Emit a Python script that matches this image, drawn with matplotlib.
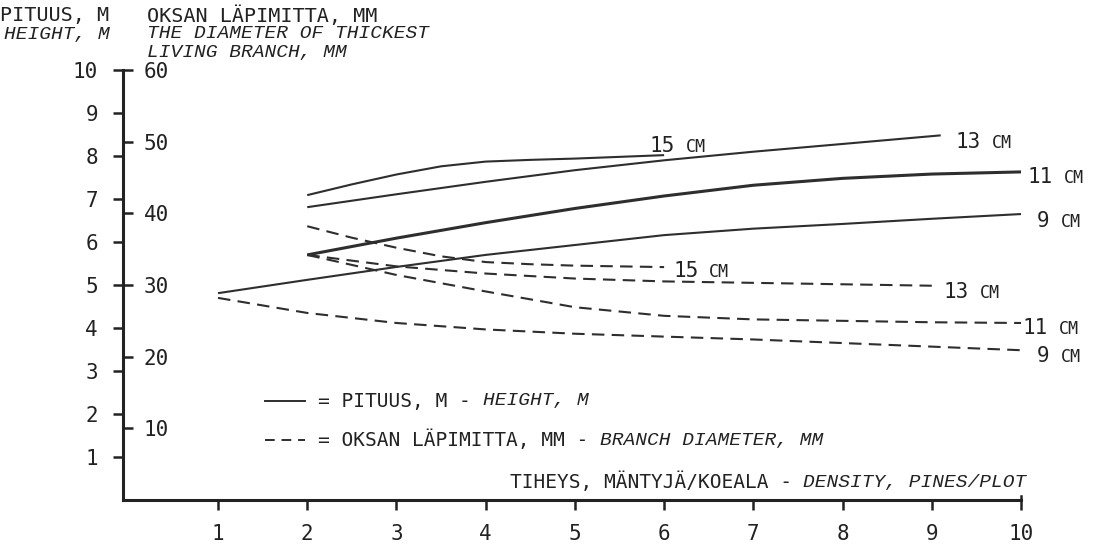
import numpy as np
import matplotlib
matplotlib.use("Agg")
from matplotlib import pyplot as plt

# tiheys (mäntyjä / koeala) ja pituudet (m) eri rinnankorkeusläpimitoille
x_15 = [2, 2.5, 3, 3.5, 4, 4.5, 5, 5.5, 6]
h_15 = [7.09, 7.34, 7.57, 7.76, 7.87, 7.91, 7.94, 7.98, 8.02]
x_13 = [2, 3, 4, 5, 6, 7, 8, 9.1]
h_13 = [6.81, 7.11, 7.40, 7.67, 7.90, 8.10, 8.28, 8.48]
x_11 = [2, 3, 4, 5, 6, 7, 8, 9, 10]
h_11 = [5.70, 6.09, 6.45, 6.78, 7.07, 7.32, 7.48, 7.58, 7.63]
x_9 = [1, 2, 3, 4, 5, 6, 7, 8, 9, 10]
h_9 = [4.81, 5.12, 5.42, 5.70, 5.93, 6.16, 6.31, 6.42, 6.54, 6.65]

# paksuimman elävän oksan läpimitta (mm)
dx_15 = [2, 2.5, 3, 3.5, 4, 4.5, 5, 5.5, 6]
d_15 = [38.2, 36.6, 35.2, 34.0, 33.2, 32.9, 32.7, 32.6, 32.5]
dx_13 = [2, 3, 4, 5, 6, 7, 8, 9]
d_13 = [34.2, 32.6, 31.6, 30.9, 30.5, 30.3, 30.1, 29.9]
dx_11 = [2, 3, 4, 5, 6, 7, 8, 9, 10]
d_11 = [34.2, 31.4, 29.1, 26.9, 25.7, 25.2, 25.0, 24.8, 24.7]
dx_9 = [1, 2, 3, 4, 5, 6, 7, 8, 9, 10]
d_9 = [28.2, 26.1, 24.7, 23.8, 23.2, 22.8, 22.4, 21.9, 21.4, 20.9]

sizes = ["15", "13", "11", "9"]
x_ticks = list(range(1, 11))
h_ticks = list(range(1, 11))
d_ticks = [10, 20, 30, 40, 50, 60]

INK = "#222222"
LINE = "#2e2e2e"
UP = "DejaVu Sans Mono"
IT = "Liberation Mono"

W, H = 1095, 548
fig = plt.figure(figsize=(W / 100, H / 100), dpi=100)
fig.patch.set_facecolor("white")

ax = fig.add_axes([123 / W, 1 - 500 / H, 898 / W, 430 / H])
ax.set_xlim(-0.065, 10)
ax.set_ylim(0, 10)
ax.patch.set_alpha(0)

ax2 = ax.twinx()
ax2.set_ylim(0, 60)
ax2.patch.set_alpha(0)

for s in ["top", "right"]:
    ax.spines[s].set_visible(False)
ax2.spines["top"].set_visible(False)
ax2.spines["left"].set_visible(False)
ax2.spines["bottom"].set_visible(False)
ax2.spines["right"].set_position(("axes", 0))
ax2.spines["right"].set_visible(False)
for s in ["left", "bottom"]:
    ax.spines[s].set_linewidth(2.2)
    ax.spines[s].set_color(INK)

ax.set_xticks(x_ticks)
ax.set_yticks(h_ticks)
ax2.set_yticks(d_ticks)
ax.tick_params(axis="both", direction="out", length=7, width=1.8, color=INK,
               labelsize=15, labelcolor=INK)
ax.tick_params(axis="x", pad=10)
ax.tick_params(axis="y", pad=11)
ax2.tick_params(axis="y", direction="out", length=7, width=1.8, color=INK,
                labelsize=15, labelcolor=INK, pad=8)
for lab in ax.get_xticklabels() + ax.get_yticklabels() + ax2.get_yticklabels():
    lab.set_family(UP)

# pieni nousu x-akselin päässä
ax.plot([10, 10], [0, 0.09], color=INK, lw=1.8, clip_on=False)

# pituus, yhtenäiset viivat
ax.plot(x_15, h_15, color=LINE, lw=1.5, solid_capstyle="butt")
ax.plot(x_13, h_13, color=LINE, lw=1.5, solid_capstyle="butt")
ax.plot(x_11, h_11, color=LINE, lw=2.2, solid_capstyle="butt")
ax.plot(x_9, h_9, color=LINE, lw=1.5, solid_capstyle="butt")

# oksan läpimitta, katkoviivat
for xs, ds in [(dx_15, d_15), (dx_13, d_13), (dx_11, d_11), (dx_9, d_9)]:
    ax2.plot(xs, ds, color=LINE, lw=1.5, dashes=(6, 3.5))


def curve_label(a, x, y, num):
    # numero isolla, "CM" pienemmällä perässä
    a.annotate(num, (x, y), xytext=(0, -5), textcoords="offset points",
               family=UP, fontsize=15, color=INK, ha="left", va="baseline",
               annotation_clip=False)
    a.annotate("CM", (x, y), xytext=(len(num) * 0.602 * 15 + 8, -5),
               textcoords="offset points", family=UP, fontsize=12,
               color=INK, ha="left", va="baseline", annotation_clip=False)


solid_pos = [(5.84, 8.26), (9.27, 8.35), (10.07, 7.53), (10.18, 6.51)]
dash_pos = [(6.10, 32.1), (9.13, 29.2), (10.02, 24.1), (10.18, 20.2)]
for num, (px_, py_) in zip(sizes, solid_pos):
    curve_label(ax, px_, py_, num)
for num, (px_, py_) in zip(sizes, dash_pos):
    curve_label(ax2, px_, py_, num)


def ftext(x, y, s, italic=False, size=14):
    fig.text(x / W, 1 - y / H, s, family=IT if italic else UP,
             style="italic" if italic else "normal", fontsize=size,
             color=INK, ha="left", va="center")


# otsikot
ftext(0, 16, "PITUUS, M", size=14.5)
ftext(147, 16, "OKSAN LÄPIMITTA, MM", size=14.5)
ftext(4, 34, "HEIGHT, M", italic=True)
ftext(147, 34, "THE DIAMETER OF THICKEST", italic=True)
ftext(147, 53, "LIVING BRANCH, MM", italic=True)

# selitteet
ax.plot([(265 - 123) / 898, (305 - 123) / 898], [(500 - 401) / 430] * 2,
        transform=ax.transAxes, color=LINE, lw=1.4, clip_on=False)
ax.plot([(265 - 123) / 898, (305 - 123) / 898], [(500 - 440) / 430] * 2,
        transform=ax.transAxes, color=LINE, lw=1.4, dashes=(5, 3.5),
        clip_on=False)
ftext(318, 401, "= PITUUS, M -")
ftext(483, 401, "HEIGHT, M", italic=True)
ftext(318, 440, "= OKSAN LÄPIMITTA, MM -")
ftext(600, 440, "BRANCH DIAMETER, MM", italic=True)
ftext(510, 482, "TIHEYS, MÄNTYJÄ/KOEALA -")
ftext(803, 482, "DENSITY, PINES/PLOT", italic=True)

fig.savefig("out.png", dpi=100, facecolor="white")
